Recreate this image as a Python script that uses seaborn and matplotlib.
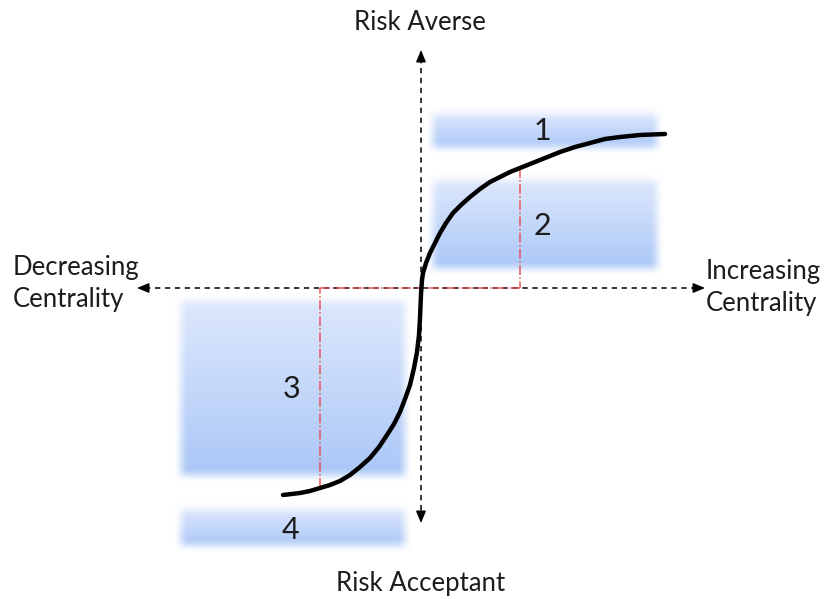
"""Risk attitude vs. centrality concept diagram."""

import matplotlib

matplotlib.use("Agg")

import matplotlib.pyplot as plt
import numpy as np
import pandas as pd
import seaborn as sns

# curve (pixel coordinates, y down)
upper_x = [421, 422, 423, 426, 430, 435, 440, 446, 453, 461, 470, 480, 490, 500, 510, 520, 530,
           545, 560, 575, 590, 605, 620, 640, 665]
upper_y = [288, 280, 273, 263, 253, 243, 233, 223, 213, 205, 197, 189, 182, 177, 172, 168, 164,
           158, 152, 147, 143, 139, 137, 135, 134]
lower_x = [421, 421, 420, 419, 417, 414, 410, 405, 400, 394, 387, 379, 370, 360, 350, 340, 330,
           320, 310, 300, 283]
lower_y = [288, 300, 318, 335, 352, 368, 385, 399, 412, 424, 435, 447, 458, 467, 475, 481, 485,
           488, 491, 493, 495]

# regions: name, left, right, top, bottom
box_labels = ["1", "2", "3", "4"]
box_left = [433, 433, 181, 181]
box_right = [657, 657, 404, 404]
box_top = [113, 180, 301, 509]
box_bottom = [147, 268, 475, 545]
label_x = [542, 542, 292, 290]
label_y = [131, 226, 389, 530]

# red guide lines: the curve point they drop from
guide_x = [520, 320]
guide_y = [168, 488]

TOP = np.array([0.87, 0.91, 0.99])
BOTTOM = np.array([0.67, 0.78, 0.97])
TEXT = "#1c1c1c"


def soft_box(ax, x0, x1, y0, y1, blur=7.5):
    pad = blur * 2
    xs = np.arange(x0 - pad, x1 + pad, 1.0) + 0.5
    ys = np.arange(y0 - pad, y1 + pad, 1.0) + 0.5
    ramp_x = np.clip(np.minimum(xs - x0, x1 - xs) / (2 * blur) + 0.5, 0, 1)
    ramp_y = np.clip(np.minimum(ys - y0, y1 - ys) / (2 * blur) + 0.5, 0, 1)
    ramp_x = ramp_x * ramp_x * (3 - 2 * ramp_x)
    ramp_y = ramp_y * ramp_y * (3 - 2 * ramp_y)
    t = np.clip((ys - y0) / (y1 - y0), 0, 1)[:, None]
    rgb = TOP * (1 - t) + BOTTOM * t
    img = np.zeros((len(ys), len(xs), 4))
    img[..., :3] = rgb[:, None, :]
    img[..., 3] = np.outer(ramp_y, ramp_x)
    ax.imshow(img, extent=(xs[0] - 0.5, xs[-1] + 0.5, ys[-1] + 0.5, ys[0] - 0.5),
              interpolation="bilinear", zorder=1)


def arrow_head(ax, tip, tail):
    ax.annotate("", xy=tip, xytext=tail,
                arrowprops=dict(arrowstyle="-|>,head_length=0.6,head_width=0.25",
                                color="black", lw=1.0, shrinkA=0, shrinkB=0), zorder=4)


def main() -> None:
    sns.set_theme(style="white")
    plt.rcParams["font.family"] = ["Lato", "DejaVu Sans"]

    fig = plt.figure(figsize=(8.30, 5.99), dpi=100)
    ax = fig.add_axes([0, 0, 1, 1])

    for x0, x1, y0, y1 in zip(box_left, box_right, box_top, box_bottom):
        soft_box(ax, x0, x1, y0, y1)

    for lab, x, y in zip(box_labels, label_x, label_y):
        ax.text(x, y, lab, ha="center", va="center", fontsize=22, color=TEXT, zorder=5)

    # axes
    ax.plot([421, 421], [58, 515], ls=(0, (3.5, 3)), color="black", lw=1.1, zorder=3)
    ax.plot([145, 697], [288, 288], ls=(0, (3.5, 3)), color="black", lw=1.1, zorder=3)
    arrow_head(ax, (421, 50), (421, 62))
    arrow_head(ax, (421, 523), (421, 511))
    arrow_head(ax, (137, 288), (149, 288))
    arrow_head(ax, (705, 288), (693, 288))

    # red dash-dot guides
    red = "#e8474a"
    for gx, gy in zip(guide_x, guide_y):
        ax.plot([gx, gx], [gy, 288], ls="-.", color=red, lw=1.1, alpha=0.9, zorder=3)
        ax.plot([gx, 421], [288, 288], ls="-.", color=red, lw=1.1, alpha=0.9, zorder=3)

    curve = pd.DataFrame({
        "x": lower_x[::-1] + upper_x[1:],
        "y": lower_y[::-1] + upper_y[1:],
    })
    sns.lineplot(data=curve, x="x", y="y", sort=False, color="black", lw=3.2, ax=ax, zorder=6)
    ax.set_xlim(0, 830)
    ax.set_ylim(599, 0)
    ax.axis("off")

    ax.text(420, 22, "Risk Averse", ha="center", va="center", fontsize=18.5, color=TEXT)
    ax.text(421, 583, "Risk Acceptant", ha="center", va="center", fontsize=18.5, color=TEXT)
    ax.text(13, 284, "Decreasing\nCentrality", ha="left", va="center", fontsize=18.5,
            color=TEXT, linespacing=1.35)
    ax.text(706, 288, "Increasing\nCentrality", ha="left", va="center", fontsize=18.5,
            color=TEXT, linespacing=1.35)

    fig.savefig("out.png", dpi=100, facecolor="white")
    plt.close(fig)


if __name__ == "__main__":
    main()
